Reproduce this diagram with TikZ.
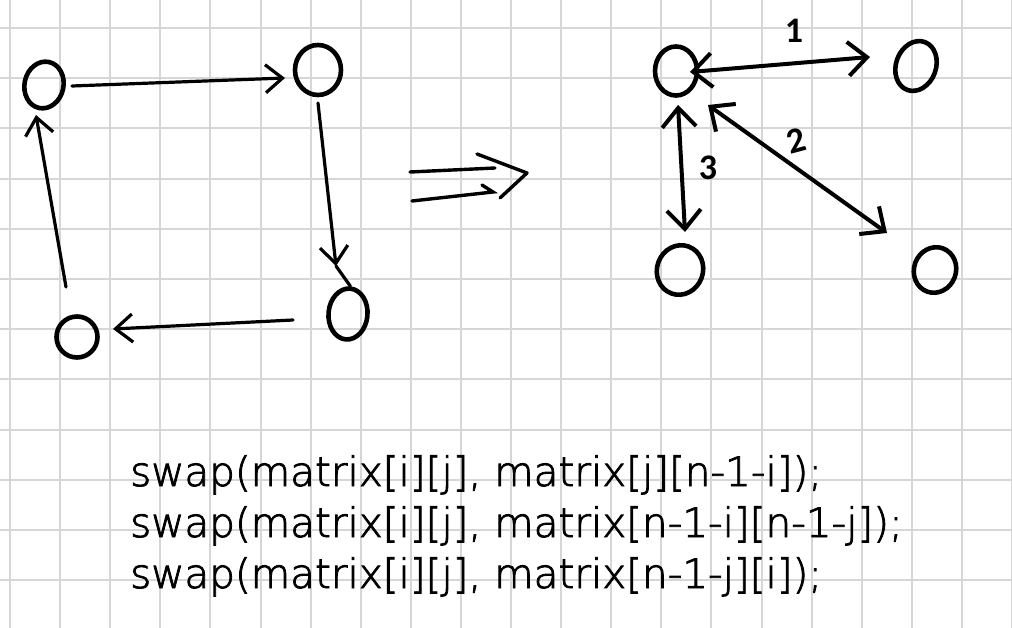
\documentclass[tikz,border=0pt]{standalone}
\usepackage{fontspec}
\setmainfont{Carlito}
\newfontfamily\codefont[FakeBold=2]{DejaVu Sans ExtraLight}
\usetikzlibrary{arrows.meta,shapes.geometric,calc}
\begin{document}
\begin{tikzpicture}[x=1pt,y=-1pt,
  gridline/.style={draw=black!16, line width=2pt},
  vert/.style={draw, ellipse, line width=4.6pt, inner sep=0pt},
  conn/.style={line width=3.2pt, line cap=round, -{Straight Barb[length=17pt,width=28pt]}},
  both/.style={line width=4pt, line cap=round, {Straight Barb[length=19pt,width=34pt]}-{Straight Barb[length=19pt,width=34pt]}},
  code/.style={anchor=base west, inner sep=0pt, font=\codefont\fontsize{40.5}{50}\selectfont},
  lbl/.style={inner sep=0pt, font=\bfseries\fontsize{36}{40}\selectfont}]
\useasboundingbox (0,0) rectangle (1012,628);
\fill[white] (0,0) rectangle (1012,628);
% grid
\foreach \i in {0,...,20} \draw[gridline] ({10+50.1*\i},0) -- ({10+50.1*\i},628);
\foreach \j in {0,...,12} \draw[gridline] (0,{28+50.2*\j}) -- (1012,{28+50.2*\j});
% left graph
\node[vert, minimum width=39pt, minimum height=47pt, rotate=-12] (A) at (44,85) {};
\node[vert, minimum width=46pt, minimum height=50pt] (B) at (318,70) {};
\node[vert, minimum width=39pt, minimum height=51pt, rotate=-5] (C) at (348,314) {};
\node[vert, minimum width=41pt, minimum height=41pt] (D) at (77,337) {};
\draw[conn] ($(A)+(28,1)$) -- ($(B)+(-33,8)$);
\coordinate (Ctip) at ($(C)+(-12,-48)$);
\draw[conn] ($(B)+(0,33)$) -- (Ctip);
\draw[line width=3.2pt, line cap=round] (Ctip) -- (C.north);
\draw[conn] ($(C)+(-55,6)$) -- ($(D)+(36,-8)$);
\draw[conn] ($(A)+(22,202)$) -- ($(A)+(-8,30)$);
% transformation arrow
\draw[line width=3.4pt, line cap=round] (410,172) -- (495,168);
\draw[line width=3.4pt, line cap=round] (412,201) -- (493,192) -- (482,185);
\draw[line width=3.4pt, line cap=round, line join=round] (477,154) -- (527,173) -- (500,198);
% right graph
\node[vert, minimum width=42pt, minimum height=49pt] (E) at (676,71) {};
\node[vert, minimum width=40pt, minimum height=51pt, rotate=-20] (F) at (916,66) {};
\node[vert, minimum width=46pt, minimum height=50pt, rotate=-20] (G) at (680,270) {};
\node[vert, minimum width=42pt, minimum height=46pt, rotate=-20] (H) at (935,270) {};
\draw[both] ($(E)+(14,1)$) -- ($(F)+(-46,-9)$);
\draw[both] ($(E)+(2,34)$) -- ($(G)+(5,-38)$);
\draw[both] ($(E)+(32,34)$) -- ($(H)+(-48,-37)$);
\node[lbl] (l1) at (794,31) {1};
\node[lbl, rotate=15] (l2) at (796,141) {2};
\node[lbl] (l3) at (708,168) {3};
% code
\node[code] (c1) at (130,486) {swap(matrix[i][j], matrix[j][n-1-i]);};
\node[code] (c2) at (130,537) {swap(matrix[i][j], matrix[n-1-i][n-1-j]);};
\node[code] (c3) at (130,588) {swap(matrix[i][j], matrix[n-1-j][i]);};
\end{tikzpicture}
\end{document}
